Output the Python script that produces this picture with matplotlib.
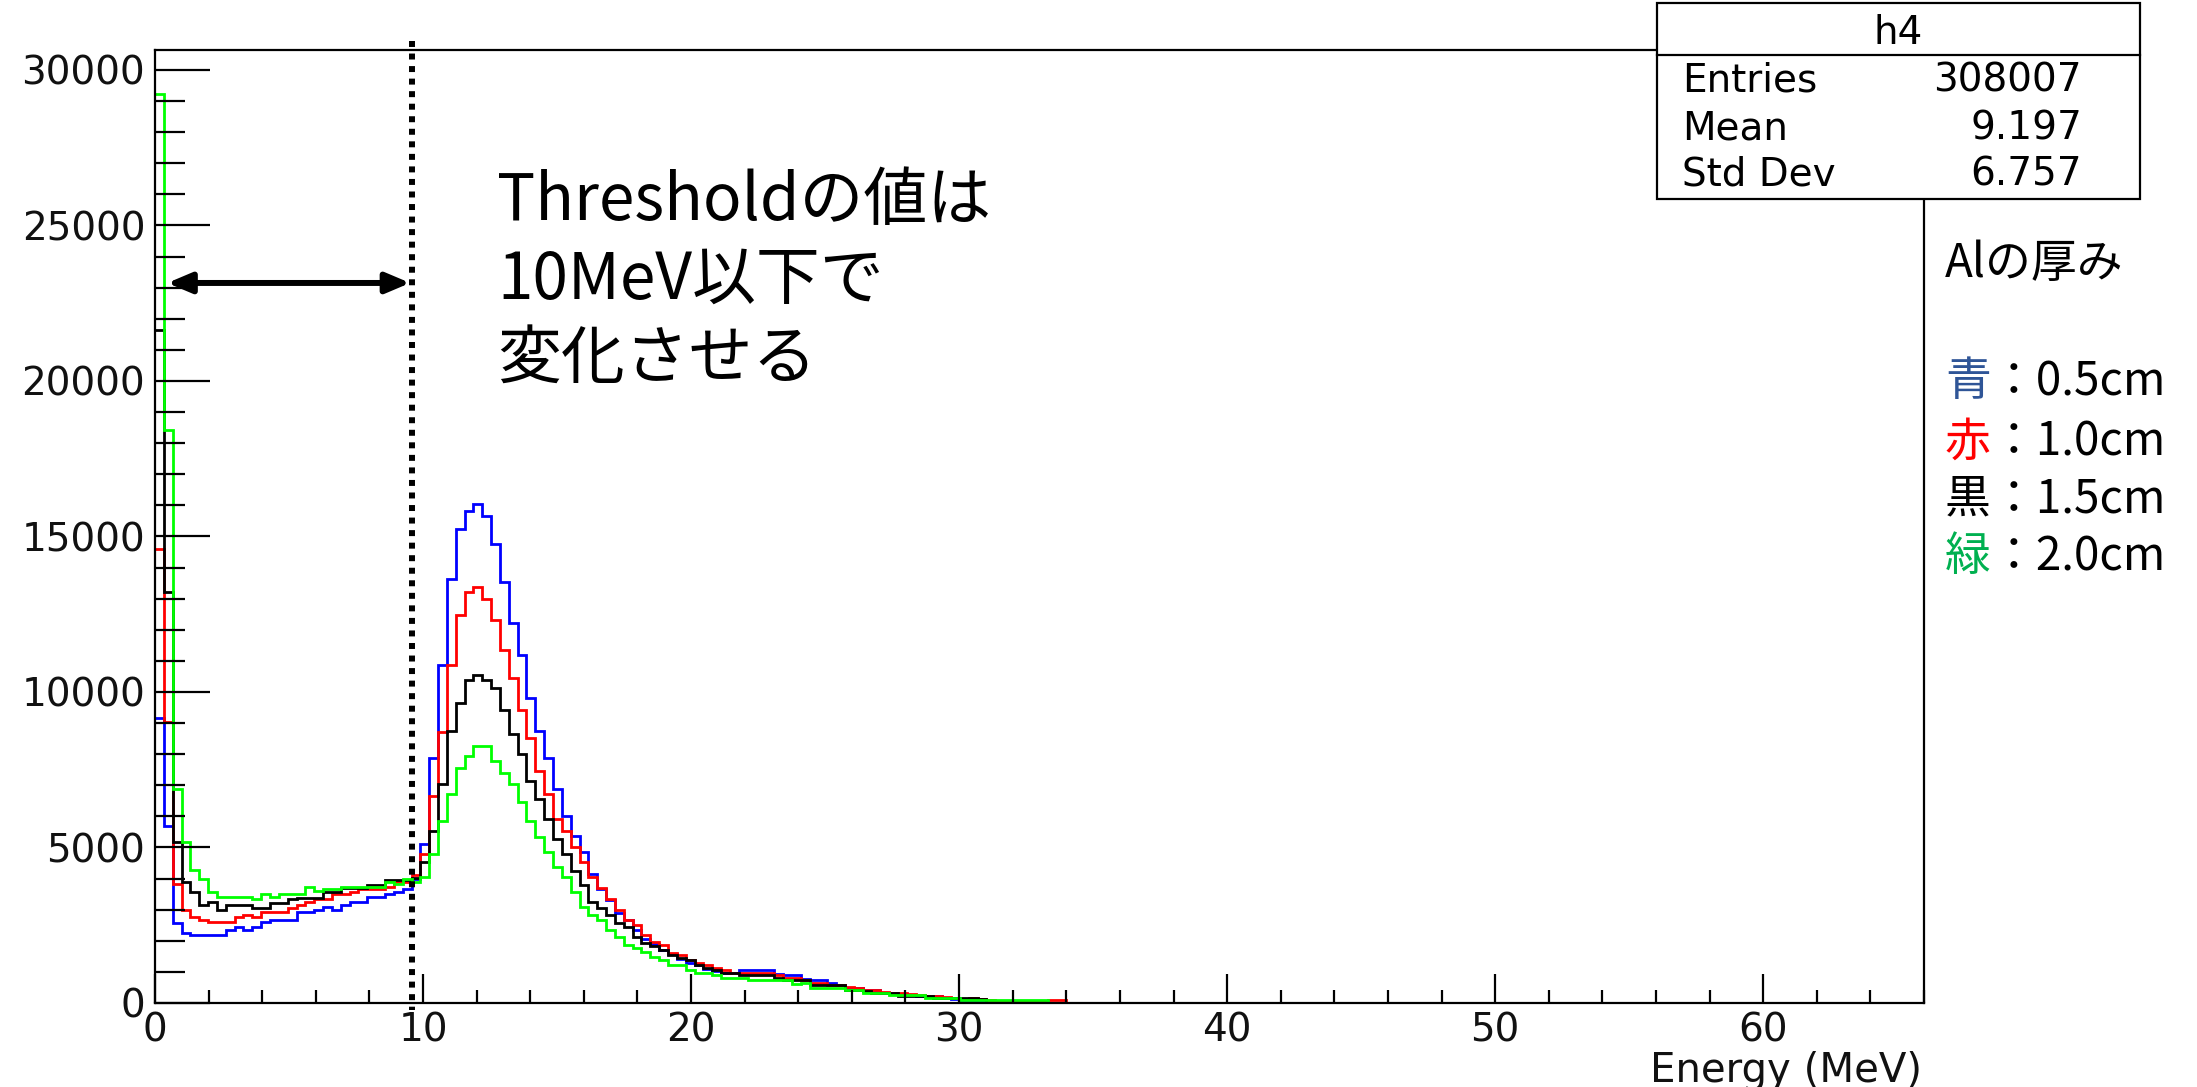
import numpy as np
import matplotlib
matplotlib.use("Agg")
import matplotlib.pyplot as plt
from matplotlib.ticker import MultipleLocator, FixedLocator
from matplotlib.patches import Rectangle
from matplotlib.lines import Line2D
from matplotlib import transforms

# ---------------------------------------------------------------- data
# Energy deposit histograms, 200 bins over 0-66 MeV (bin width 0.33 MeV).
# Only the populated bins are listed; everything beyond is empty.
BIN_WIDTH = 0.33
X_RANGE = (0.0, 66.0)

counts_blue = [
    9170, 5680, 2570, 2250, 2200, 2200, 2200, 2200, 2360, 2440,
    2360, 2440, 2600, 2680, 2680, 2680, 2910, 2910, 2990, 3080,
    2990, 3150, 3240, 3240, 3400, 3400, 3500, 3580, 3670, 3990,
    5100, 7880, 10880, 13630, 15230, 15810, 16050, 15650, 14770, 13540,
    12230, 11200, 9810, 8750, 7880, 6870, 6020, 5370, 4860, 4140,
    3660, 3300, 2900, 2680, 2340, 2060, 1910, 1700, 1570, 1420,
    1290, 1210, 1090, 1030, 980, 980, 1050, 1050, 1050, 1050,
    940, 890, 890, 780, 730, 730, 650, 570, 480, 480,
    410, 410, 320, 320, 280, 260, 240, 240, 240, 160,
    130, 100, 80, 60, 50, 40, 30, 20, 20, 10,
    10, 0,
]

counts_red = [
    14590, 9040, 3810, 3000, 2770, 2680, 2590, 2590, 2590, 2750,
    2820, 2750, 2910, 2910, 2910, 3070, 3140, 3240, 3330, 3330,
    3490, 3490, 3570, 3670, 3670, 3670, 3730, 3890, 3890, 4130,
    4780, 6650, 8700, 10880, 12470, 13200, 13380, 12980, 12310, 11340,
    10450, 9410, 8520, 7460, 6710, 5930, 5520, 5020, 4540, 4050,
    3710, 3330, 2980, 2660, 2500, 2180, 1960, 1860, 1620, 1530,
    1370, 1270, 1210, 1130, 1050, 965, 965, 965, 965, 965,
    900, 790, 790, 730, 650, 640, 570, 570, 520, 480,
    410, 410, 360, 320, 320, 280, 260, 240, 240, 200,
    160, 130, 160, 120, 90, 80, 80, 80, 80, 80,
    80, 87, 87, 0,
]

counts_black = [
    21650, 13220, 5180, 3890, 3570, 3140, 3250, 2980, 3140, 3140,
    3140, 3070, 3070, 3230, 3230, 3330, 3390, 3390, 3390, 3570,
    3570, 3710, 3710, 3710, 3790, 3790, 3970, 3970, 3970, 4030,
    4540, 5530, 7030, 8750, 9650, 10380, 10540, 10380, 10130, 9410,
    8660, 8020, 7130, 6570, 5900, 5270, 4780, 4240, 3790, 3250,
    3070, 2820, 2570, 2430, 2120, 1940, 1830, 1700, 1530, 1460,
    1370, 1210, 1110, 1050, 965, 965, 890, 890, 890, 890,
    800, 730, 730, 730, 570, 570, 570, 570, 410, 410,
    380, 330, 320, 320, 240, 240, 240, 240, 160, 160,
    160, 160, 160, 120, 0,
]

counts_green = [
    29220, 18420, 6880, 5180, 4290, 3980, 3570, 3410, 3410, 3410,
    3410, 3330, 3500, 3410, 3500, 3500, 3500, 3730, 3590, 3680,
    3680, 3730, 3730, 3730, 3730, 3730, 3890, 3810, 3980, 3890,
    4050, 4780, 5850, 6730, 7560, 7930, 8270, 8270, 7780, 7380,
    7040, 6460, 5850, 5350, 4850, 4370, 4050, 3570, 3090, 2820,
    2680, 2340, 2120, 1860, 1780, 1640, 1480, 1370, 1210, 1210,
    1050, 965, 965, 891, 804, 804, 804, 730, 730, 730,
    730, 730, 620, 643, 482, 482, 482, 482, 408, 408,
    333, 333, 333, 250, 250, 250, 250, 161, 161, 161,
    161, 87, 87, 87, 87, 87, 87, 87, 87, 87,
    87, 0,
]

series = [
    (counts_blue, "#0000ff"),
    (counts_red, "#ff0000"),
    (counts_black, "#000000"),
    (counts_green, "#00ff00"),
]

x_major = [0, 10, 20, 30, 40, 50, 60]
y_major = [0, 5000, 10000, 15000, 20000, 25000, 30000]
y_top = 30640
threshold_mev = 9.58
arrow_level = 23150

stats_title = "h4"
stats_names = ["Entries", "Mean", "Std Dev"]
stats_values = ["308007", "9.197", "6.757"]

note_lines = ["Thresholdの値は", "10MeV以下で", "変化させる"]
legend_title = "Alの厚み"
legend_marks = ["青", "赤", "黒", "緑"]
legend_marks_colors = ["#2f5597", "#ff0000", "#000000", "#00b050"]
legend_thickness = ["：0.5cm", "：1.0cm", "：1.5cm", "：2.0cm"]

# ---------------------------------------------------------------- figure
W, H = 2197, 1087
plt.rcParams["font.family"] = ["DejaVu Sans"]
CJK = ["Noto Sans CJK JP", "DejaVu Sans"]

fig = plt.figure(figsize=(W / 100, H / 100), dpi=100)
fig.patch.set_facecolor("white")


def fx(px):
    return px / W


def fy(py):
    return 1 - py / H


ax_left, ax_right, ax_top, ax_bottom = 155, 1924, 50, 1003
ax = fig.add_axes([fx(ax_left), fy(ax_bottom),
                   fx(ax_right - ax_left), (ax_bottom - ax_top) / H])

for values, color in series:
    edges = np.arange(len(values) + 1) * BIN_WIDTH
    ax.stairs(values, edges, color=color, lw=2.0, baseline=None)

ax.set_xlim(*X_RANGE)
ax.set_ylim(0, y_top)

for s in ax.spines.values():
    s.set_linewidth(1.6)

ax.xaxis.set_major_locator(FixedLocator(x_major))
ax.xaxis.set_minor_locator(MultipleLocator(2))
ax.yaxis.set_major_locator(FixedLocator(y_major))
ax.yaxis.set_minor_locator(MultipleLocator(1000))

ax.tick_params(axis="x", which="major", direction="in", length=20.7,
               width=1.6, top=False, labelsize=28, pad=6)
ax.tick_params(axis="x", which="minor", direction="in", length=9.4,
               width=1.6, top=False)
ax.tick_params(axis="y", which="major", direction="in", length=39.6,
               width=1.6, right=False, labelsize=28, pad=7)
ax.tick_params(axis="y", which="minor", direction="in", length=21.6,
               width=1.6, right=False)
ax.set_xticklabels([str(v) for v in x_major])
ax.set_yticklabels([str(v) for v in y_major])
for lab in ax.get_xticklabels() + ax.get_yticklabels():
    lab.set_color("#111111")

# axis title at the right end, below the tick labels
fig.text(fx(1922), fy(1082), "Energy (MeV)", ha="right", va="baseline",
         fontsize=29, color="#111111")

# threshold marker: dotted vertical line running slightly past the frame
blend = transforms.blended_transform_factory(ax.transData, ax.transAxes)
ax.add_line(Line2D([threshold_mev, threshold_mev], [1.0097, -0.0075],
                   transform=blend, color="black", lw=4.3,
                   linestyle=(0, (1.0, 1.1)), dash_capstyle="butt",
                   clip_on=False, zorder=5))

# double arrow spanning the adjustable threshold range
ax.annotate("", xy=(0.46, arrow_level), xytext=(threshold_mev - 0.06, arrow_level),
            arrowprops=dict(arrowstyle="<|-|>,head_length=1.3,head_width=0.55",
                            mutation_scale=11, lw=4.3, color="black",
                            shrinkA=0, shrinkB=0), zorder=6)

# statistics box
bx0, bx1, by0, by1, bsep = 1657, 2140, 3, 199, 55
fig.add_artist(Rectangle((fx(bx0), fy(by1)), fx(bx1 - bx0), (by1 - by0) / H,
                         transform=fig.transFigure, facecolor="white",
                         edgecolor="black", lw=1.6, zorder=10))
fig.add_artist(Line2D([fx(bx0), fx(bx1)], [fy(bsep), fy(bsep)],
                      transform=fig.transFigure, color="black", lw=1.6,
                      zorder=11))
fig.text(fx((bx0 + bx1) / 2), fy(33), stats_title, ha="center", va="center",
         fontsize=28, zorder=12)
for name, val, yc in zip(stats_names, stats_values, [81, 128, 174]):
    fig.text(fx(1682), fy(yc), name, ha="left", va="center", fontsize=28,
             zorder=12)
    fig.text(fx(2082), fy(yc), val, ha="right", va="center", fontsize=28,
             zorder=12)

# explanatory note
for line, base in zip(note_lines, [220, 299, 378]):
    fig.text(fx(497), fy(base), line, ha="left", va="baseline",
             fontsize=46, family=CJK, color="black")

# thickness legend beside the frame
fig.text(fx(1945), fy(264), legend_title, ha="left", va="center",
         fontsize=33, family=CJK, color="black")
for mark, mcol, rest, yc in zip(legend_marks, legend_marks_colors,
                                legend_thickness, [382, 442, 499, 557]):
    fig.text(fx(1945), fy(yc), mark, ha="left", va="center", fontsize=33,
             family=CJK, color=mcol)
    shifted = transforms.offset_copy(fig.transFigure, fig=fig, x=33, y=0,
                                     units="points")
    fig.text(fx(1945), fy(yc), rest, ha="left", va="center", fontsize=33,
             family=CJK, color="black", transform=shifted)

fig.savefig("out.png", dpi=100)
